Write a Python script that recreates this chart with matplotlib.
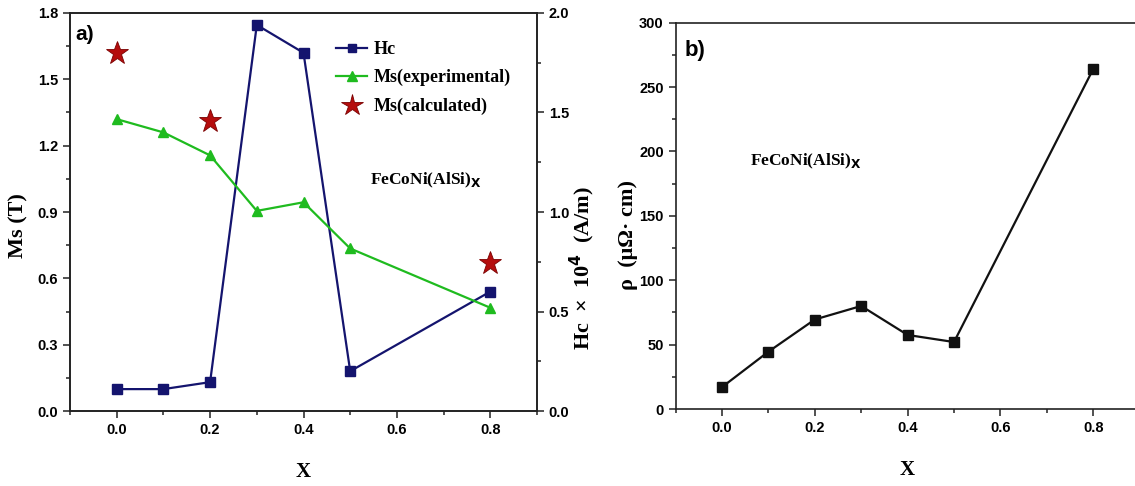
import matplotlib
matplotlib.use("Agg")
import matplotlib.pyplot as plt
from matplotlib.ticker import MultipleLocator
from matplotlib.lines import Line2D

# ---- data ----
x_vals = [0.0, 0.1, 0.2, 0.3, 0.4, 0.5, 0.8]
hc_vals = [0.11, 0.11, 0.145, 1.94, 1.80, 0.20, 0.60]
ms_exp = [1.32, 1.26, 1.156, 0.905, 0.944, 0.735, 0.467]
x_calc = [0.0, 0.2, 0.8]
ms_calc = [1.62, 1.31, 0.67]
rho_vals = [17, 44.5, 69.5, 80, 57.5, 52, 264]

x_ticks = [0.0, 0.2, 0.4, 0.6, 0.8]

serif = ["Liberation Serif", "DejaVu Serif"]
sans = ["Liberation Sans", "DejaVu Sans"]

fig = plt.figure(figsize=(11.35, 4.86), dpi=100)

navy = "#14146e"
green = "#1fbb1f"
red = "#b50d0d"

# ---------------- panel a ----------------
ax = fig.add_axes([70/1135, 1-411/486, 467/1135, 398/486])
ax2 = ax.twinx()

ax2.plot(x_vals, hc_vals, color=navy, lw=1.6, marker="s", ms=6.5,
         mfc=navy, mec=navy, zorder=3)
ax.plot(x_vals, ms_exp, color=green, lw=1.6, marker="^", ms=7.5,
        mfc=green, mec=green, zorder=3)
ax.plot(x_calc, ms_calc, ls="none", marker="*", ms=17, mfc=red,
        mec="#7a0000", mew=0.6, zorder=4)

ax.set_xlim(-0.1, 0.9)
ax.set_ylim(0, 1.8)
ax2.set_ylim(0, 2.0)
ax.set_xticks(x_ticks)
ax.xaxis.set_minor_locator(MultipleLocator(0.1))
ax.yaxis.set_major_locator(MultipleLocator(0.3))
ax.yaxis.set_minor_locator(MultipleLocator(0.15))
ax2.yaxis.set_major_locator(MultipleLocator(0.5))
ax2.yaxis.set_minor_locator(MultipleLocator(0.25))

for a in (ax, ax2):
    for s in a.spines.values():
        s.set_linewidth(1.2)
        s.set_color("#222222")
    a.tick_params(which="both", direction="out", width=1.1, color="#222222")
    a.tick_params(which="major", length=5)
    a.tick_params(which="minor", length=3)
ax.tick_params(axis="both", which="both", top=False, right=False)
ax2.tick_params(axis="both", which="both", top=False, left=False)

for lab in ax.get_xticklabels() + ax.get_yticklabels() + ax2.get_yticklabels():
    lab.set_fontfamily(sans)
    lab.set_fontweight("bold")
    lab.set_fontsize(10.5)
ax.set_xticklabels([f"{v:.1f}" for v in x_ticks], fontfamily=sans,
                   fontweight="bold", fontsize=10.5)

ax.set_xlabel("X", fontfamily=serif, fontweight="bold", fontsize=15, labelpad=18)
ax.set_ylabel("Ms (T)", fontfamily=serif, fontweight="bold", fontsize=16)
ax.yaxis.set_label_coords(-0.088, 0.467)
ax2.set_ylabel("Hc  ×  10$^{\\mathbf{4}}$  (A/m)", fontfamily=serif,
               fontweight="bold", fontsize=16)
ax2.yaxis.set_label_coords(1.066, 0.36)

ax.text(0.012, 0.97, "a)", transform=ax.transAxes, fontfamily=sans,
        fontweight="bold", fontsize=15, va="top", ha="left")
ax.text(0.543, 1.045, r"FeCoNi(AlSi)$_{\mathbf{X}}$", fontfamily=serif,
        fontweight="bold", fontsize=12.5, va="center", ha="left")

handles = [
    Line2D([], [], color=navy, lw=1.6, marker="s", ms=6, mfc=navy, mec=navy),
    Line2D([], [], color=green, lw=1.6, marker="^", ms=7, mfc=green, mec=green),
    Line2D([], [], ls="none", marker="*", ms=16, mfc=red, mec="#7a0000", mew=0.6),
]
leg = ax.legend(handles, ["Hc", "Ms(experimental)", "Ms(calculated)"],
                loc="upper left", bbox_to_anchor=(0.555, 0.948), frameon=False,
                handlelength=1.7, handletextpad=0.35, labelspacing=0.62,
                borderaxespad=0.0,
                prop={"family": serif, "weight": "bold", "size": 13})
ax.set_zorder(ax2.get_zorder() + 1)
ax.patch.set_visible(False)

# ---------------- panel b ----------------
bx = fig.add_axes([675.6/1135, 1-409/486, 464/1135, 386.3/486])
bx.plot(x_vals, rho_vals, color="#111111", lw=1.6, marker="s", ms=6.5,
        mfc="#111111", mec="#111111")
bx.set_xlim(-0.1, 0.9)
bx.set_ylim(0, 300)
bx.set_xticks(x_ticks)
bx.xaxis.set_minor_locator(MultipleLocator(0.1))
bx.yaxis.set_major_locator(MultipleLocator(50))
bx.yaxis.set_minor_locator(MultipleLocator(25))
for s in bx.spines.values():
    s.set_linewidth(1.2)
    s.set_color("#222222")
bx.tick_params(which="both", direction="out", width=1.1, color="#222222",
               top=False, right=False)
bx.tick_params(which="major", length=5)
bx.tick_params(which="minor", length=3)
bx.set_xticklabels([f"{v:.1f}" for v in x_ticks], fontfamily=sans,
                   fontweight="bold", fontsize=10.5)
for lab in bx.get_yticklabels():
    lab.set_fontfamily(sans)
    lab.set_fontweight("bold")
    lab.set_fontsize(10.5)
bx.set_xlabel("X", fontfamily=serif, fontweight="bold", fontsize=15, labelpad=18)
bx.set_ylabel("ρ  (μΩ· cm)", fontfamily=serif, fontweight="bold", fontsize=16)
bx.yaxis.set_label_coords(-0.081, 0.45)
bx.text(0.02, 0.955, "b)", transform=bx.transAxes, fontfamily=sans,
        fontweight="bold", fontsize=16, va="top", ha="left")
bx.text(0.06, 192, r"FeCoNi(AlSi)$_{\mathbf{X}}$", fontfamily=serif,
        fontweight="bold", fontsize=12.5, va="center", ha="left")

fig.savefig("out.png", dpi=100)
